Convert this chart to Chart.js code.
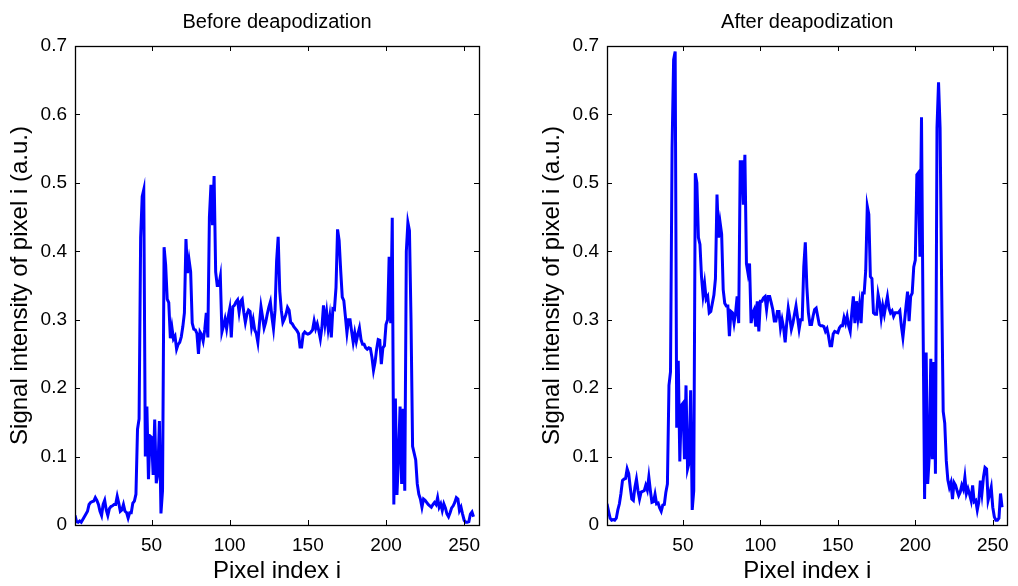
<!DOCTYPE html>
<html>
<head>
<meta charset="utf-8">
<script src="https://cdn.jsdelivr.net/npm/chart.js@4.4.1/dist/chart.umd.min.js"></script>
<style>
  html, body { margin: 0; padding: 0; background: #fff; }
  #wrap { position: relative; width: 1018px; height: 586px; background: #fff; }
  canvas { position: absolute; left: 0; top: 0; }
</style>
</head>
<body>
<div id="wrap">
  <canvas id="left" width="1018" height="586"></canvas>
  <canvas id="right" width="1018" height="586"></canvas>
</div>
<script>
// ---- Data ----
const panelTitles = ['Before deapodization', 'After deapodization'];
const xAxisLabel = 'Pixel index i';
const yAxisLabel = 'Signal intensity of pixel i (a.u.)';
const xTickValues = [50, 100, 150, 200, 250];
const yTickValues = [0, 0.1, 0.2, 0.3, 0.4, 0.5, 0.6, 0.7];
const yTickLabels = ['0', '0.1', '0.2', '0.3', '0.4', '0.5', '0.6', '0.7'];

const beforeValues = [
  0.014,0.005,0.004,0.006,0.004,0.008,0.012,0.016,0.02,0.03,
  0.033,0.034,0.035,0.04,0.036,0.03,0.02,0.014,0.03,0.036,
  0.022,0.014,0.024,0.027,0.028,0.03,0.03,0.042,0.032,0.02,
  0.022,0.03,0.02,0.018,0.01,0.018,0.018,0.032,0.035,0.045,
  0.14,0.155,0.42,0.48,0.49,0.1,0.173,0.067,0.13,0.128,
  0.073,0.154,0.061,0.075,0.152,0.017,0.05,0.406,0.38,0.33,
  0.325,0.273,0.289,0.272,0.276,0.257,0.264,0.267,0.275,0.29,
  0.31,0.418,0.368,0.387,0.37,0.295,0.286,0.285,0.28,0.25,
  0.282,0.278,0.269,0.285,0.31,0.274,0.45,0.497,0.438,0.51,
  0.37,0.35,0.35,0.363,0.282,0.291,0.301,0.287,0.304,0.316,
  0.274,0.319,0.321,0.326,0.329,0.311,0.327,0.33,0.311,0.296,
  0.308,0.314,0.312,0.289,0.3,0.285,0.28,0.267,0.294,0.319,
  0.304,0.288,0.296,0.308,0.318,0.326,0.304,0.287,0.314,0.386,
  0.421,0.342,0.314,0.296,0.301,0.308,0.318,0.314,0.296,0.294,
  0.29,0.287,0.284,0.28,0.26,0.26,0.279,0.282,0.28,0.279,
  0.28,0.282,0.285,0.298,0.287,0.294,0.284,0.272,0.289,0.321,
  0.294,0.311,0.287,0.304,0.274,0.316,0.315,0.347,0.432,0.416,
  0.372,0.333,0.328,0.305,0.281,0.3,0.3,0.283,0.267,0.281,
  0.268,0.279,0.288,0.271,0.264,0.264,0.259,0.257,0.259,0.258,
  0.245,0.226,0.238,0.257,0.271,0.27,0.235,0.259,0.262,0.293,
  0.3,0.392,0.295,0.449,0.03,0.185,0.044,0.1,0.173,0.06,
  0.17,0.05,0.4,0.442,0.43,0.3,0.115,0.105,0.095,0.06,
  0.045,0.038,0.026,0.038,0.036,0.033,0.03,0.028,0.026,0.03,
  0.033,0.03,0.04,0.026,0.031,0.021,0.031,0.025,0.016,0.012,
  0.018,0.025,0.028,0.033,0.04,0.038,0.021,0.026,0.016,0.007,
  0.004,0.004,0.005,0.016,0.019,0.012
];

const afterValues = [
  0.031,0.02,0.01,0.007,0.008,0.007,0.01,0.022,0.031,0.046,
  0.065,0.067,0.068,0.082,0.075,0.055,0.038,0.036,0.055,0.067,
  0.05,0.038,0.048,0.049,0.05,0.058,0.051,0.07,0.05,0.033,
  0.034,0.045,0.031,0.032,0.025,0.02,0.029,0.03,0.048,0.06,
  0.204,0.224,0.55,0.68,0.692,0.142,0.24,0.093,0.175,0.178,
  0.096,0.204,0.082,0.091,0.197,0.022,0.05,0.514,0.5,0.42,
  0.41,0.363,0.336,0.353,0.33,0.334,0.31,0.312,0.324,0.336,
  0.36,0.483,0.42,0.442,0.425,0.344,0.324,0.32,0.32,0.276,
  0.312,0.31,0.295,0.31,0.334,0.295,0.531,0.531,0.468,0.541,
  0.382,0.368,0.382,0.295,0.31,0.315,0.29,0.327,0.283,0.327,
  0.327,0.332,0.334,0.315,0.334,0.334,0.325,0.315,0.298,0.298,
  0.312,0.312,0.288,0.3,0.288,0.267,0.295,0.317,0.303,0.286,
  0.295,0.308,0.32,0.303,0.286,0.3,0.3,0.377,0.413,0.348,
  0.31,0.293,0.293,0.305,0.315,0.317,0.305,0.293,0.291,0.291,
  0.29,0.283,0.287,0.276,0.262,0.262,0.279,0.283,0.282,0.281,
  0.288,0.291,0.291,0.303,0.295,0.305,0.291,0.283,0.31,0.334,
  0.295,0.327,0.303,0.322,0.295,0.339,0.339,0.372,0.466,0.454,
  0.363,0.36,0.31,0.308,0.308,0.337,0.325,0.303,0.32,0.308,
  0.322,0.334,0.317,0.31,0.313,0.305,0.31,0.31,0.31,0.313,
  0.291,0.274,0.296,0.32,0.341,0.298,0.334,0.339,0.377,0.387,
  0.512,0.515,0.392,0.596,0.3,0.038,0.252,0.06,0.1,0.243,
  0.096,0.238,0.075,0.58,0.647,0.58,0.35,0.166,0.149,0.094,
  0.066,0.055,0.062,0.038,0.062,0.058,0.05,0.043,0.048,0.058,
  0.052,0.07,0.046,0.053,0.045,0.036,0.058,0.034,0.036,0.022,
  0.034,0.065,0.046,0.07,0.084,0.082,0.036,0.045,0.055,0.026,
  0.012,0.007,0.007,0.01,0.046,0.026
];

// pixel index categories 1..N
const pixelIndex = beforeValues.map((_, k) => k + 1);

// ---- Plot helpers ----
const FONT = "'Liberation Sans', Arial, Helvetica, sans-serif";

const boxTicks = {
  id: 'boxTicks',
  afterDatasetsDraw(chart) {
    const {ctx, chartArea: a, scales: {x, y}} = chart;
    const L = 5;
    ctx.save();
    ctx.strokeStyle = '#000';
    ctx.lineWidth = 1;
    ctx.beginPath();
    x.ticks.forEach(t => {
      const px = Math.round(x.getPixelForValue(t.value)) + 0.5;
      ctx.moveTo(px, a.bottom); ctx.lineTo(px, a.bottom - L);
      ctx.moveTo(px, a.top); ctx.lineTo(px, a.top + L);
    });
    y.ticks.forEach(t => {
      const py = Math.round(y.getPixelForValue(t.value)) + 0.5;
      ctx.moveTo(a.left, py); ctx.lineTo(a.left + L, py);
      ctx.moveTo(a.right, py); ctx.lineTo(a.right - L, py);
    });
    ctx.stroke();
    ctx.lineWidth = 1.3;
    ctx.strokeRect(Math.round(a.left) + 0.5, Math.round(a.top) + 0.5,
                   Math.round(a.width), Math.round(a.height));
    ctx.restore();
  }
};

function makeChart(id, title, values, padLeft, padRight) {
  return new Chart(document.getElementById(id), {
    type: 'line',
    data: {
      datasets: [{
        data: pixelIndex.map((px, k) => ({x: px, y: values[k]})),
        borderColor: '#0000ff',
        borderWidth: 3,
        pointRadius: 0,
        tension: 0,
        fill: false
      }]
    },
    plugins: [boxTicks],
    options: {
      responsive: false,
      animation: false,
      devicePixelRatio: 1,
      events: [],
      layout: { padding: { left: padLeft, right: padRight, top: 0, bottom: 0 } },
      plugins: {
        legend: { display: false },
        tooltip: { enabled: false },
        title: {
          display: true,
          text: title,
          fullSize: false,
          color: '#000',
          font: { family: FONT, size: 20, weight: 'normal' },
          padding: { top: 10, bottom: 12 }
        }
      },
      scales: {
        x: {
          type: 'linear',
          min: 1,
          max: 259.5,
          grid: { display: false, drawTicks: false },
          border: { display: false },
          afterBuildTicks: s => { s.ticks = xTickValues.map(v => ({value: v})); },
          afterFit: s => { s.height = 61; },
          ticks: {
            autoSkip: false, maxRotation: 0, padding: 9, color: '#000',
            font: { family: FONT, size: 19 }
          },
          title: {
            display: true, text: xAxisLabel, color: '#000',
            font: { family: FONT, size: 24 }, padding: { top: 0, bottom: 0 }
          }
        },
        y: {
          type: 'linear',
          min: 0,
          max: 0.7,
          grid: { display: false, drawTicks: false },
          border: { display: false },
          afterBuildTicks: s => { s.ticks = yTickValues.map(v => ({value: v})); },
          afterFit: s => { s.width = 75; },
          ticks: {
            autoSkip: false, padding: 8, color: '#000',
            font: { family: FONT, size: 19 },
            callback: (v, i) => yTickLabels[i]
          },
          title: {
            display: true, text: yAxisLabel, color: '#000',
            font: { family: FONT, size: 24 }, padding: { top: 6, bottom: 0 }
          }
        }
      }
    }
  });
}

makeChart('left', panelTitles[0], beforeValues, 0, 539);
makeChart('right', panelTitles[1], afterValues, 532, 7);
</script>
</body>
</html>
